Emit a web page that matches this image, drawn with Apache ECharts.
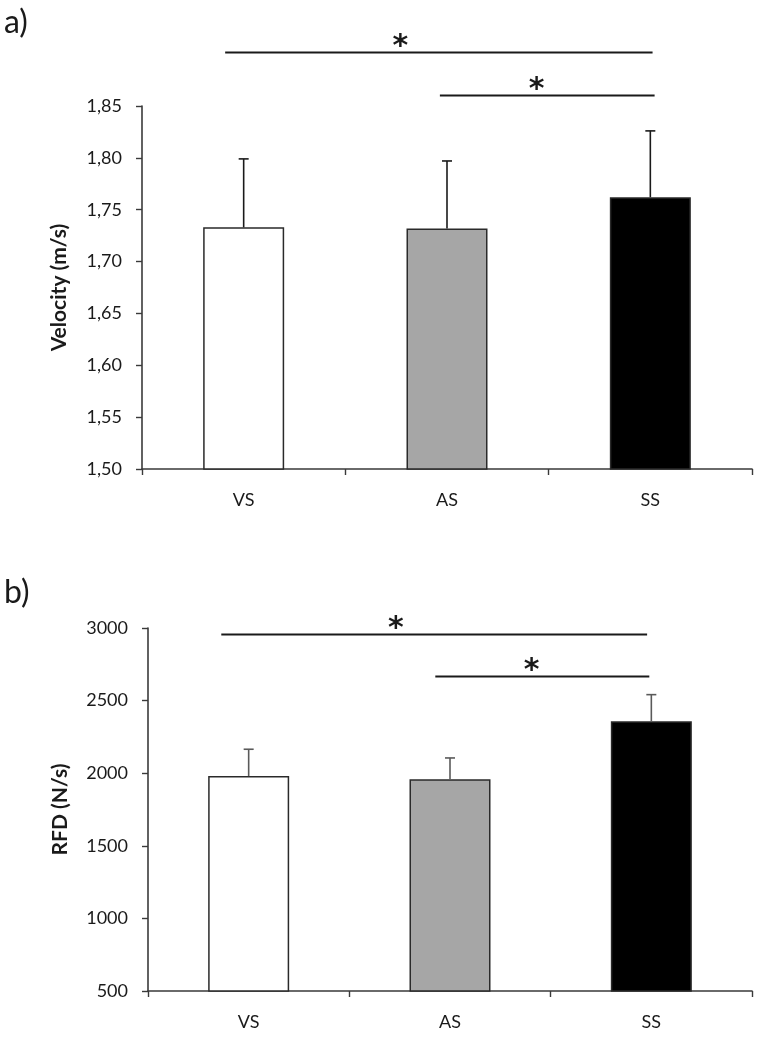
<!DOCTYPE html>
<html>
<head>
<meta charset="utf-8">
<script src="https://cdn.jsdelivr.net/npm/echarts@6/dist/echarts.min.js"></script>
<style>
html,body{margin:0;padding:0;background:#fff;}
#chart{width:759px;height:1039px;}
</style>
</head>
<body>
<div id="chart"></div>
<script>
// ---------- data ----------
const categories = ['VS', 'AS', 'SS'];
const velocityMean = [1.733, 1.732, 1.762];
const velocitySD = [0.066, 0.065, 0.064];
const rfdMean = [1980, 1958, 2357];
const rfdSD = [185, 147, 184];
const velocityAxis = { min: 1.50, max: 1.85, step: 0.05 };
const rfdAxis = { min: 500, max: 3000, step: 500 };
// significance brackets: from category index, to category index, height (axis units)
const velocitySig = [[0, 2, 1.902], [1, 2, 1.861]];
const rfdSig = [[0, 2, 2959], [1, 2, 2669]];
const sigLabel = '*';
const panelLabels = ['a)', 'b)'];
const yNames = ['Velocity (m/s)', 'RFD (N/s)'];

// ---------- styles ----------
const FONT = 'Lato';
const barColors = ['#ffffff', '#a6a6a6', '#000000'];
const axisColor = '#3a3a3a';
const textColor = '#1a1a1a';
// bracket geometry in fractions of a category band: [startShift, endShift, starPos]
const sigGeom = [
  [[-0.091, 0.011, 0.41], [-0.035, 0.021, 0.45]],
  [[-0.136, -0.021, 0.41], [-0.073, -0.010, 0.45]]
];

const chart = echarts.init(document.getElementById('chart'), null, { renderer: 'canvas' });

function errRender(color) {
  return function (params, api) {
    const i = api.value(0), m = api.value(1), e = api.value(2);
    const p0 = api.coord([i, m]);
    const p1 = api.coord([i, m + e]);
    const st = { stroke: color, lineWidth: 1.6 };
    return {
      type: 'group',
      children: [
        { type: 'line', shape: { x1: p0[0], y1: p0[1], x2: p1[0], y2: p1[1] }, style: st },
        { type: 'line', shape: { x1: p1[0] - 5, y1: p1[1], x2: p1[0] + 5, y2: p1[1] }, style: st }
      ]
    };
  };
}

function sigRender(geoms) {
  return function (params, api) {
    const a = api.value(0), b = api.value(1), y = api.value(2);
    const g = geoms[params.dataIndex];
    const band = api.size([1, 0])[0];
    const pa = api.coord([a, y]);
    const pb = api.coord([b, y]);
    const x1 = pa[0] + g[0] * band;
    const x2 = pb[0] + g[1] * band;
    const yy = Math.round(pa[1]) + 0.5;
    return {
      type: 'group',
      children: [
        { type: 'line', shape: { x1: x1, y1: yy, x2: x2, y2: yy }, style: { stroke: '#1a1a1a', lineWidth: 2 } },
        { type: 'text', style: { text: sigLabel, x: x1 + (x2 - x1) * g[2], y: yy - 5, align: 'center', verticalAlign: 'middle', fontFamily: 'DejaVu Sans', fontWeight: 'bold', fontSize: 30, fill: '#1a1a1a' } }
      ]
    };
  };
}

function xAxisCfg(gi) {
  return {
    type: 'category', gridIndex: gi, data: categories,
    axisLine: { lineStyle: { color: axisColor, width: 1.6 } },
    axisTick: { show: true, length: 6, lineStyle: { color: axisColor, width: 1.4 } },
    axisLabel: { margin: 22, fontFamily: FONT, fontSize: 18, color: textColor }
  };
}
function yAxisCfg(gi, ax, name, gap, fmt) {
  return {
    type: 'value', gridIndex: gi, min: ax.min, max: ax.max, interval: ax.step,
    name: name, nameLocation: 'middle', nameGap: gap,
    nameTextStyle: { fontFamily: FONT, fontWeight: 'bold', fontSize: 21, color: textColor },
    axisLine: { show: true, lineStyle: { color: axisColor, width: 1.6 } },
    axisTick: { show: true, length: 6, lineStyle: { color: axisColor, width: 1.4 } },
    splitLine: { show: false },
    axisLabel: { margin: 20, fontFamily: FONT, fontSize: 18, color: textColor, formatter: fmt }
  };
}

function barData(means) {
  return means.map((v, i) => ({
    value: v,
    itemStyle: { color: barColors[i], borderColor: '#2a2a2a', borderWidth: 1.5 }
  }));
}

const option = {
  animation: false,
  backgroundColor: '#ffffff',
  grid: [
    { left: 142, top: 106, right: 7, bottom: 570, containLabel: false },
    { left: 148, top: 628, right: 7, bottom: 48, containLabel: false }
  ],
  xAxis: [xAxisCfg(0), xAxisCfg(1)],
  yAxis: [
    yAxisCfg(0, velocityAxis, yNames[0], 72, v => v.toFixed(2).replace('.', ',')),
    yAxisCfg(1, rfdAxis, yNames[1], 77, v => String(v))
  ],
  graphic: [
    { type: 'text', left: 4, top: 7, style: { text: panelLabels[0], fontFamily: FONT, fontSize: 32, fill: textColor } },
    { type: 'text', left: 4, top: 577, style: { text: panelLabels[1], fontFamily: FONT, fontSize: 32, fill: textColor } }
  ],
  series: [
    { type: 'bar', xAxisIndex: 0, yAxisIndex: 0, barWidth: 81, data: barData(velocityMean), z: 2 },
    { type: 'custom', xAxisIndex: 0, yAxisIndex: 0, renderItem: errRender('#1a1a1a'), clip: false, z: 3,
      encode: { x: 0, y: 1 },
      data: categories.map((c, i) => [i, velocityMean[i], velocitySD[i]]) },
    { type: 'custom', xAxisIndex: 0, yAxisIndex: 0, renderItem: sigRender(sigGeom[0]), clip: false, z: 4,
      encode: { x: 0, y: 2 }, data: velocitySig },
    { type: 'bar', xAxisIndex: 1, yAxisIndex: 1, barWidth: 81, data: barData(rfdMean), z: 2 },
    { type: 'custom', xAxisIndex: 1, yAxisIndex: 1, renderItem: errRender('#5a5a5a'), clip: false, z: 3,
      encode: { x: 0, y: 1 },
      data: categories.map((c, i) => [i, rfdMean[i], rfdSD[i]]) },
    { type: 'custom', xAxisIndex: 1, yAxisIndex: 1, renderItem: sigRender(sigGeom[1]), clip: false, z: 4,
      encode: { x: 0, y: 2 }, data: rfdSig }
  ]
};
chart.setOption(option);
</script>
</body>
</html>
